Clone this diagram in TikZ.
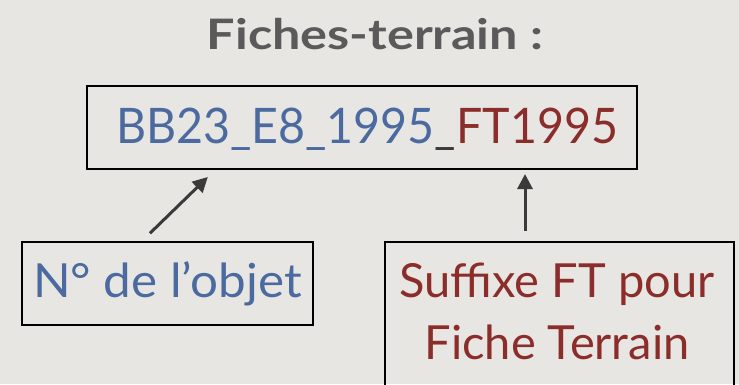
\documentclass[tikz,border=0pt]{standalone}
\usepackage{fontspec}
\setmainfont{Lato}
\newfontfamily\titlefont[FakeStretch=1.2]{Lato}
\newfontfamily\codefont[FakeStretch=0.95]{Lato}
\newfontfamily\leftfont[FakeStretch=1.05]{Lato}
\usetikzlibrary{arrows.meta}
\definecolor{bg}{HTML}{E8E6E3}
\definecolor{tgray}{HTML}{5A5A5A}
\definecolor{cblue}{HTML}{4B6A9F}
\definecolor{cred}{HTML}{8B2D2A}
\definecolor{agray}{HTML}{3A3A3A}
\tikzset{
  box/.style={draw=black, line width=2pt, inner sep=0pt, anchor=north west},
  arr/.style={draw=agray, line width=3pt, -{Triangle[length=15pt,width=15pt]}},
  txt/.style={inner sep=0pt, anchor=base},
}
\begin{document}
\begin{tikzpicture}[x=1pt,y=-1pt]
\fill[bg] (0,0) rectangle (739,384);
\useasboundingbox (0,0) rectangle (739,384);
\node[txt, text=tgray, font=\titlefont\fontsize{42}{50}\selectfont\bfseries] (title) at (375,49) {Fiches-terrain :};
\node[box, minimum width=550pt, minimum height=83pt] (mbox) at (86,85) {};
\node[txt, font=\codefont\fontsize{49}{58}\selectfont] (mtxt) at (367,143) {\textcolor{cblue}{BB23\_E8\_1995}\textcolor{agray}{\_}\textcolor{cred}{FT1995}};
\node[box, minimum width=291pt, minimum height=83pt] (lbox) at (21,241) {};
\node[txt, text=cblue, font=\leftfont\fontsize{47}{56}\selectfont] (ltxt) at (167.5,297) {N° de l’objet};
\node[box, minimum width=349pt, minimum height=170pt] (rbox) at (384,241) {};
\node[txt, text=cred, font=\fontsize{47}{56}\selectfont] (rtxt1) at (557,297) {Suffixe FT pour};
\node[txt, text=cred, font=\fontsize{47}{56}\selectfont] (rtxt2) at (557,359) {Fiche Terrain};
\draw[arr, shorten <=11pt, shorten >=10pt] ([xshift=121pt]lbox.north west) -- ([xshift=129pt]mbox.south west);
\draw[arr, shorten <=10pt, shorten >=4pt] ([xshift=141pt]rbox.north west) -- ([xshift=439pt]mbox.south west);
\end{tikzpicture}
\end{document}
